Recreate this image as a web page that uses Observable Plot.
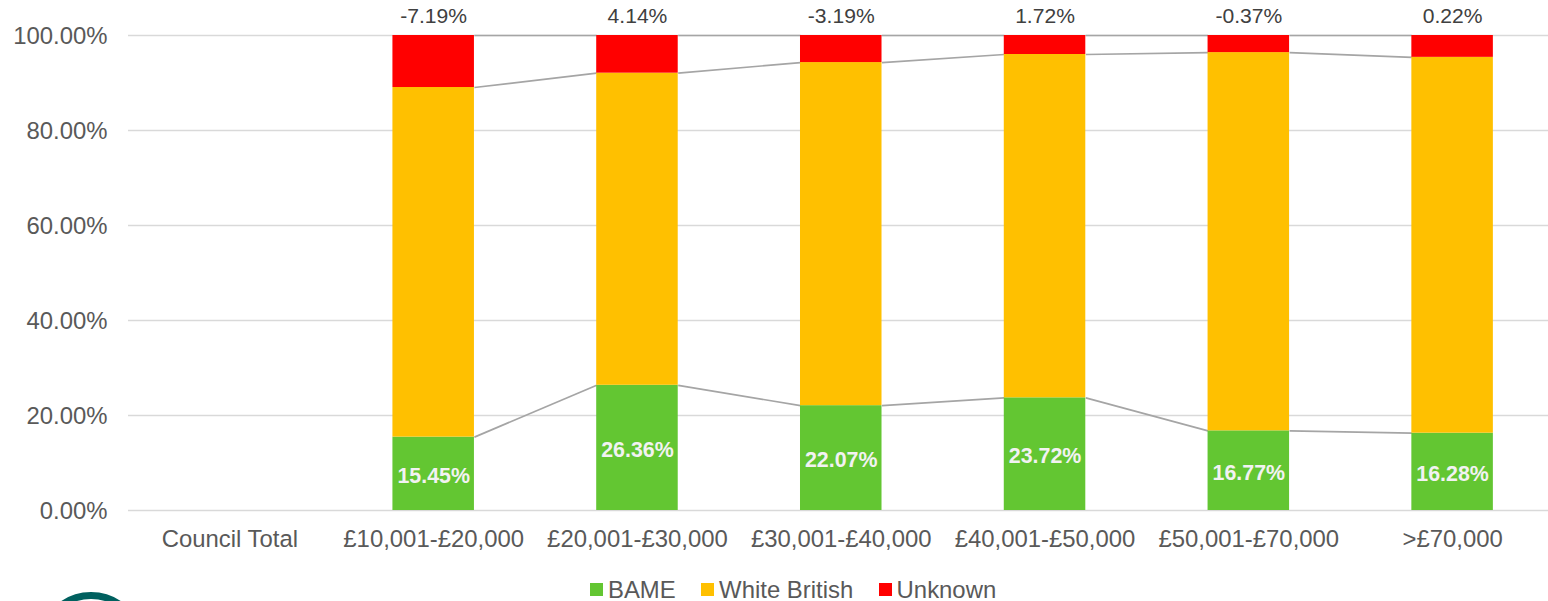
<!DOCTYPE html>
<html>
<head>
<meta charset="utf-8">
<script src="https://cdn.jsdelivr.net/npm/d3@7"></script>
<script src="https://cdn.jsdelivr.net/npm/@observablehq/plot@0.6"></script>
<style>
  html, body { margin: 0; padding: 0; background: #fff; overflow: hidden; height: 601px; }
  body { position: relative; font-family: "Liberation Sans", Arial, sans-serif; }
  svg { display: block; }
  #legend { display: flex; align-items: center; height: 29px; padding-left: 590px; color: #595959; font-size: 23.9px; }
  #legend .item { display: flex; align-items: center; margin-right: 25.4px; }
  #legend .sw { width: 13px; height: 13px; margin-right: 5px; }
  #logo { position: absolute; left: 37.5px; top: 592px; width: 106px; height: 106px; box-sizing: border-box; border: 7px solid #00605f; border-radius: 50%; }
</style>
</head>
<body>
<script>
const categories = ["Council Total", "£10,001-£20,000", "£20,001-£30,000", "£30,001-£40,000", "£40,001-£50,000", "£50,001-£70,000", ">£70,000"];
const barCategories = categories.slice(1);
const seriesNames = ["BAME", "White British", "Unknown"];
const seriesColors = ["#63c632", "#ffc000", "#ff0000"];
const bame = [15.45, 26.36, 22.07, 23.72, 16.77, 16.28];
const whiteBritish = [73.6, 65.71, 72.23, 72.28, 79.63, 79.12];
const unknown = [10.95, 7.93, 5.7, 4.0, 3.6, 4.6];
const changeLabels = ["-7.19%", "4.14%", "-3.19%", "1.72%", "-0.37%", "0.22%"];
const yTicks = [0, 20, 40, 60, 80, 100];

const barHalf = 0.2;
const table = barCategories.map((c, k) => ({
  pos: categories.indexOf(c),
  bame: bame[k],
  mid: bame[k] / 2,
  white: bame[k] + whiteBritish[k],
  top: 100,
  change: changeLabels[k]
}));
const segments = [
  ...table.map(d => ({s: 0, pos: d.pos, y1: 0, y2: d.bame})),
  ...table.map(d => ({s: 1, pos: d.pos, y1: d.bame, y2: d.white})),
  ...table.map(d => ({s: 2, pos: d.pos, y1: d.white, y2: d.top}))
];
const pairs = d3.pairs(table);
const connectors = [
  ...pairs.map(([a, b]) => ({a: a.pos, b: b.pos, v1: a.bame, v2: b.bame})),
  ...pairs.map(([a, b]) => ({a: a.pos, b: b.pos, v1: a.white, v2: b.white})),
  ...pairs.map(([a, b]) => ({a: a.pos, b: b.pos, v1: a.top, v2: b.top}))
];

const chart = Plot.plot({
  width: 1548,
  height: 575,
  marginLeft: 128,
  marginRight: 0,
  marginTop: 35,
  marginBottom: 65,
  style: {fontFamily: '"Liberation Sans", Arial, sans-serif', background: "#fff", overflow: "hidden"},
  x: {type: "linear", domain: [-0.5, 6.5], range: [127.5, 1554]},
  y: {domain: [0, 100], range: [510, 35]},
  marks: [
    Plot.ruleY(yTicks, {stroke: "#d9d9d9", strokeWidth: 1.6}),
    Plot.link(connectors, {
      x1: d => d.a + barHalf, x2: d => d.b - barHalf,
      y1: "v1", y2: "v2", stroke: "#a5a5a5", strokeWidth: 1.7
    }),
    Plot.rect(segments, {
      x1: d => d.pos - barHalf, x2: d => d.pos + barHalf,
      y1: "y1", y2: "y2", fill: d => seriesColors[d.s]
    }),
    Plot.text(table, {
      x: "pos", y: "mid", text: d => d.bame.toFixed(2) + "%",
      fill: "#f2f2f2", fontWeight: "bold", fontSize: 21.4, dy: 2
    }),
    Plot.text(table, {
      x: "pos", y: "top", text: "change", fill: "#404040", fontSize: 21.1, dy: -19
    }),
    Plot.axisY({
      ticks: yTicks, tickSize: 0, tickPadding: 21, label: null, color: "#595959",
      fontSize: 23.9, dy: 0.5, tickFormat: d => d.toFixed(2) + "%"
    }),
    Plot.axisX({
      ticks: categories.map((c, i) => i), tickSize: 0, tickPadding: 19.5, label: null, color: "#595959",
      fontSize: 23.9, tickFormat: i => categories[i], textOverflow: null
    })
  ]
});
document.body.appendChild(chart);

const legend = document.createElement("div");
legend.id = "legend";
seriesNames.forEach((name, i) => {
  const item = document.createElement("span");
  item.className = "item";
  const sw = document.createElement("span");
  sw.className = "sw";
  sw.style.background = seriesColors[i];
  item.appendChild(sw);
  item.appendChild(document.createTextNode(name));
  legend.appendChild(item);
});
document.body.appendChild(legend);

const logo = document.createElement("div");
logo.id = "logo";
document.body.appendChild(logo);
</script>
</body>
</html>
